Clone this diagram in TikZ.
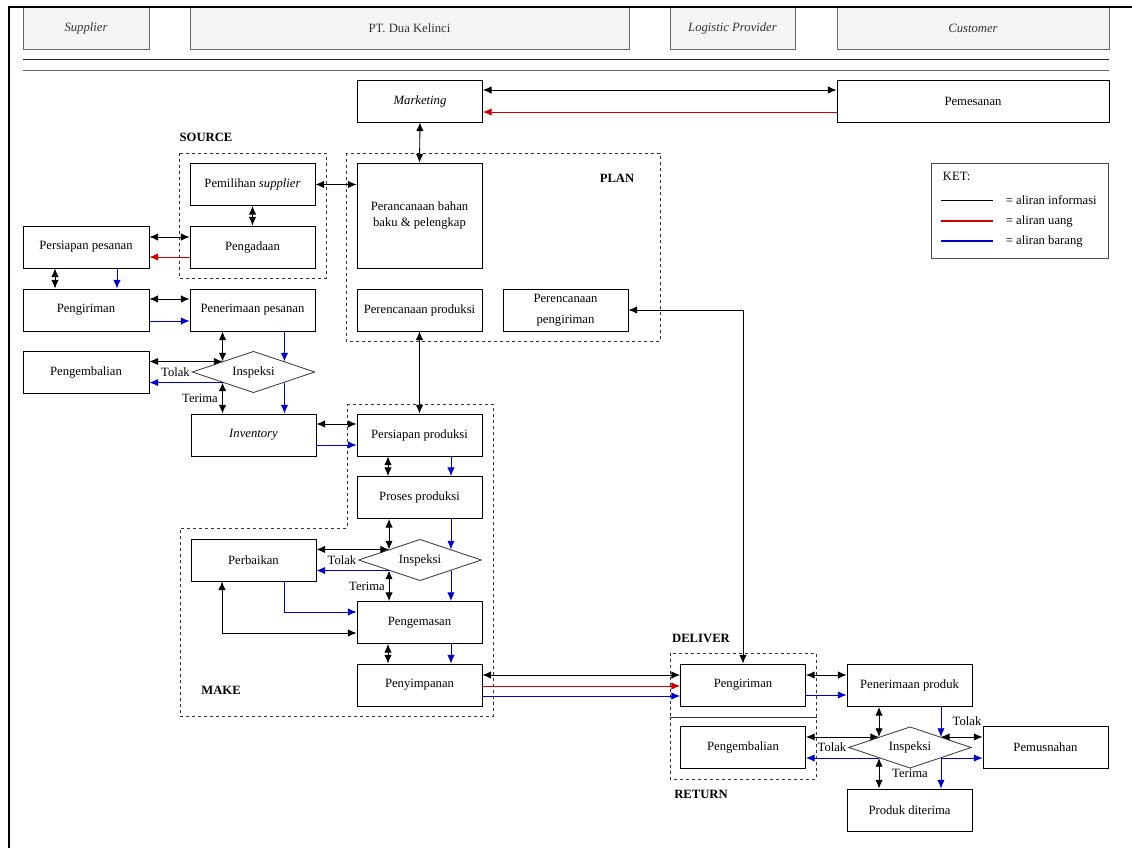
\documentclass[tikz,border=0pt]{standalone}
\usepackage{fontspec}
\setmainfont{Liberation Serif}
\usetikzlibrary{arrows.meta,shapes.geometric}
\definecolor{uang}{RGB}{204,0,0}
\definecolor{barang}{RGB}{0,0,204}
\definecolor{lane}{RGB}{245,245,245}
\definecolor{laneline}{RGB}{102,102,102}
\begin{document}
\begin{tikzpicture}[x=0.75pt,y=-0.75pt,
  >={Latex[length=6.5pt,width=5.5pt]},
  line width=0.65pt,
  every node/.style={font=\fontsize{9.5}{11.5}\selectfont},
  box/.style={draw, rectangle, minimum width=93.75pt, minimum height=31.5pt, inner sep=0pt, align=center},
  lanebox/.style={draw=laneline, fill=lane, rectangle, minimum height=31.5pt, inner sep=0pt, text=black!80, font=\fontsize{9.5}{11.5}\selectfont\itshape},
  check/.style={draw=black!75, diamond, aspect=3, inner sep=0pt, minimum width=92.25pt, minimum height=31pt},
  group/.style={draw=black!80, dash pattern=on 2.5pt off 2pt},
  stage/.style={font=\fontsize{9.5}{11.5}\selectfont\bfseries}]
\useasboundingbox (0,0) rectangle (1132,848);

\node[lanebox, minimum width=94.5pt] (sup) at (86,28) {Supplier};
\node[lanebox, minimum width=329.25pt, font=\fontsize{9.5}{11.5}\selectfont] (dk) at (409.5,28) {PT. Dua Kelinci};
\node[lanebox, minimum width=93.75pt] (lp) at (732.5,28) {Logistic Provider};
\node[lanebox, minimum width=204pt] (cus) at (973,28) {Customer};
\draw[line width=1.5pt] (9,848) -- (9,7) -- (1132,7);
\draw[black!85] (23,59) -- (1109,59);
\draw[black!60] (23,70) -- (1109,70);

\draw[group] (179,153) rectangle (326,278);
\draw[group] (346,153) rectangle (660,341);
\draw[group] (347,404) -- (493,404) -- (493,716) -- (180,716) -- (180,528) -- (347,528) -- cycle;
\draw[group] (670,653) rectangle (816,717);
\draw[group] (670,717) rectangle (816,779);
\node[stage] (src) at (206,137) {SOURCE};
\node[stage] (pln) at (617,178) {PLAN};
\node[stage] (mk) at (221,690) {MAKE};
\node[stage] (dlv) at (701,638) {DELIVER};
\node[stage] (rtn) at (701,794) {RETURN};

\node[box] (mkt) at (420,101) {\textit{Marketing}};
\node[box, minimum width=204pt] (psn) at (973,101) {Pemesanan};

\node[box] (pms) at (252.5,184.5) {Pemilihan \textit{supplier}};
\node[box] (pgd) at (252.5,247) {Pengadaan};
\node[box, minimum width=94.5pt] (psp) at (86,247) {Persiapan pesanan};
\node[box, minimum width=94.5pt] (kirS) at (86,310) {Pengiriman};
\node[box] (trp) at (252.5,310) {Penerimaan pesanan};
\node[check] (insS) at (253.5,372) {Inspeksi};
\node[box, minimum width=94.5pt] (pgbS) at (86,372) {Pengembalian};
\node[box] (inv) at (253.5,435) {\textit{Inventory}};

\node[box, minimum height=78.75pt] (pbb) at (419.5,215.5) {Perancanaan bahan\\baku \& pelengkap};
\node[box] (prp) at (419.5,310) {Perencanaan produksi};
\node[box] (ppg) at (565.5,310) {Perencanaan\\[4pt]pengiriman};

\node[box] (ppd) at (419.5,435) {Persiapan produksi};
\node[box] (prs) at (419.5,497.5) {Proses produksi};
\node[check] (insM) at (420,560) {Inspeksi};
\node[box] (pbk) at (253.5,560) {Perbaikan};
\node[box] (pgm) at (419.5,622.5) {Pengemasan};
\node[box] (pyp) at (419.5,685) {Penyimpanan};

\node[box] (krD) at (743,685) {Pengiriman};
\node[box] (pgbR) at (743,747.5) {Pengembalian};
\node[box] (tpd) at (909.5,685.5) {Penerimaan produk};
\node[check] (insC) at (910,747.5) {Inspeksi};
\node[box] (pmn) at (1045.5,747.5) {Pemusnahan};
\node[box] (pdt) at (909.5,810) {Produk diterima};

\node[left, inner sep=1pt] (tlkS) at (insS.west) {Tolak};
\node (trmS) at (200,398) {Terima};
\node[left, inner sep=1pt] (tlkM) at (insM.west) {Tolak};
\node (trmM) at (367,586) {Terima};
\node[left, inner sep=1pt] (tlkC) at (insC.west) {Tolak};
\node (tlkC2) at (967,721) {Tolak};
\node (trmC) at (910,773) {Terima};

\draw[<->] (mkt.east |- 0,90) -- (psn.west |- 0,90);
\draw[->, uang] (psn.west |- 0,112) -- (mkt.east |- 0,112);
\draw[<->] (mkt.south) -- (pbb.north);
\draw[<->] (pms.east) -- (pbb.west |- pms.east);
\draw[<->] (pms.south) -- (pgd.north);
\draw[<->] (psp.east |- 0,237) -- (pgd.west |- 0,237);
\draw[->, uang] (pgd.west |- 0,257) -- (psp.east |- 0,257);
\draw[<->] (psp.south -| 55,0) -- (kirS.north -| 55,0);
\draw[->, barang] (psp.south -| 117,0) -- (kirS.north -| 117,0);
\draw[<->] (kirS.east |- 0,299) -- (trp.west |- 0,299);
\draw[->, barang] (kirS.east |- 0,321) -- (trp.west |- 0,321);
\draw[<->] (trp.south -| insS.north west) -- (insS.north west);
\draw[<->] (pgbS.east |- insS.north west) -- (insS.north west);
\draw[->, barang] (trp.south -| insS.north east) -- (insS.north east);
\draw[->, barang] (insS.south west) -- (pgbS.east |- insS.south west);
\draw[<->] (insS.south west) -- (inv.north -| insS.south west);
\draw[->, barang] (insS.south east) -- (inv.north -| insS.south east);
\draw[<->] (inv.east |- 0,424) -- (ppd.west |- 0,424);
\draw[->, barang] (inv.east |- 0,445) -- (ppd.west |- 0,445);
\draw[<->] (prp.south) -- (ppd.north);
\draw[<->] (ppg.east) -| (krD.north);

\draw[<->] (ppd.south -| 388,0) -- (prs.north -| 388,0);
\draw[->, barang] (ppd.south -| 451,0) -- (prs.north -| 451,0);
\draw[<->] (prs.south -| insM.north west) -- (insM.north west);
\draw[<->] (pbk.east |- insM.north west) -- (insM.north west);
\draw[->, barang] (prs.south -| insM.north east) -- (insM.north east);
\draw[->, barang] (insM.south west) -- (pbk.east |- insM.south west);
\draw[<->] (insM.south west) -- (pgm.north -| insM.south west);
\draw[->, barang] (insM.south east) -- (pgm.north -| insM.south east);
\draw[->, barang] (pbk.south -| 284,0) |- (pgm.west |- 0,612);
\draw[<->] (pbk.south -| 222,0) |- (pgm.west |- 0,633);
\draw[<->] (pgm.south -| 388,0) -- (pyp.north -| 388,0);
\draw[->, barang] (pgm.south -| 451,0) -- (pyp.north -| 451,0);

\draw[<->] (pyp.east |- 0,675) -- (krD.west |- 0,675);
\draw[->, uang] (pyp.east |- 0,686) -- (krD.west |- 0,686);
\draw[->, barang] (pyp.east |- 0,696) -- (krD.west |- 0,696);
\draw[<->] (krD.east |- 0,675) -- (tpd.west |- 0,675);
\draw[->, barang] (krD.east |- 0,695) -- (tpd.west |- 0,695);
\draw[<->] (tpd.south -| insC.north west) -- (insC.north west);
\draw[<->] (pgbR.east |- insC.north west) -- (insC.north west);
\draw[->, barang] (tpd.south -| insC.north east) -- (insC.north east);
\draw[<->] (insC.north east) -- (pmn.west |- insC.north east);
\draw[->, barang] (insC.south west) -- (pgbR.east |- insC.south west);
\draw[->, barang] (insC.south east) -- (pmn.west |- insC.south east);
\draw[<->] (insC.south west) -- (pdt.north -| insC.south west);
\draw[->, barang] (insC.south east) -- (pdt.north -| insC.south east);

\node[draw=black!70, rectangle, minimum width=132.75pt, minimum height=71.25pt] (ket) at (1019.5,210.5) {};
\node[anchor=west] (ketT) at (938,176) {KET:};
\draw (941,200) -- (993,200);
\draw[uang, line width=0.8pt] (941,221) -- (993,221);
\draw[barang, line width=0.8pt] (941,241) -- (993,241);
\node[anchor=west] (ki) at (1001,200) {= aliran informasi};
\node[anchor=west] (ku) at (1001,221) {= aliran uang};
\node[anchor=west] (kb) at (1001,241) {= aliran barang};
\end{tikzpicture}
\end{document}
